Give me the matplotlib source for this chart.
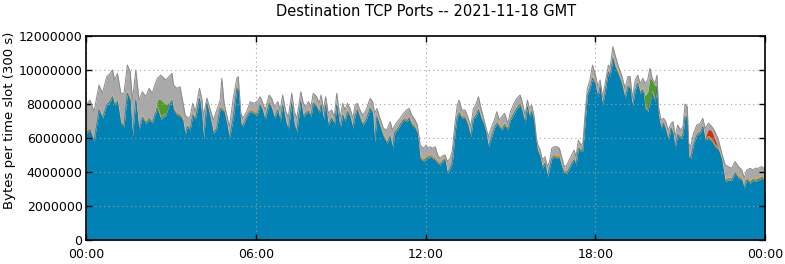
import numpy as np
import matplotlib
matplotlib.use("Agg")
import matplotlib.pyplot as plt

# time of day in hours, values in millions of bytes per 300 s slot
hours = [0.00, 0.14, 0.28, 0.46, 0.58, 0.73, 0.85, 0.93, 1.01, 1.11, 1.23, 1.34, 1.46, 1.56, 1.64, 1.76, 1.87, 1.99,
         2.11, 2.23, 2.34, 2.43, 2.52, 2.64, 2.82, 2.93, 3.04, 3.09, 3.21, 3.32, 3.42, 3.50, 3.58, 3.68, 3.77, 3.86,
         4.01, 4.09, 4.15, 4.27, 4.38, 4.50, 4.62, 4.74, 4.80, 4.88, 4.97, 5.07, 5.21, 5.33, 5.38, 5.47, 5.54, 5.68,
         5.80, 5.91, 6.05, 6.15, 6.23, 6.33, 6.47, 6.56, 6.66, 6.78, 6.86, 6.95, 7.06, 7.15, 7.27, 7.36, 7.45, 7.59,
         7.68, 7.77, 7.86, 7.95, 8.03, 8.15, 8.24, 8.31, 8.39, 8.47, 8.56, 8.68, 8.78, 8.86, 8.98, 9.07, 9.15, 9.24,
         9.33, 9.43, 9.51, 9.59, 9.68, 9.78, 9.90, 10.04, 10.13, 10.20, 10.28, 10.39, 10.51, 10.63, 10.75, 10.83,
         10.92, 11.00, 11.10, 11.22, 11.34, 11.42, 11.51, 11.63, 11.71, 11.81, 11.92, 12.02, 12.08, 12.16, 12.24,
         12.34, 12.43, 12.51, 12.59, 12.69, 12.77, 12.87, 12.95, 13.04, 13.12, 13.19, 13.28, 13.40, 13.49, 13.60,
         13.69, 13.77, 13.87, 13.96, 14.04, 14.14, 14.22, 14.34, 14.43, 14.52, 14.60, 14.69, 14.79, 14.91, 15.00,
         15.10, 15.22, 15.34, 15.40, 15.52, 15.60, 15.67, 15.75, 15.84, 15.91, 15.95, 16.05, 16.13, 16.22, 16.31,
         16.38, 16.46, 16.55, 16.64, 16.73, 16.81, 16.90, 16.99, 17.08, 17.17, 17.25, 17.32, 17.40, 17.49, 17.56,
         17.64, 17.72, 17.81, 17.90, 17.99, 18.09, 18.17, 18.25, 18.34, 18.46, 18.52, 18.62, 18.70, 18.82, 18.93,
         19.05, 19.15, 19.23, 19.31, 19.41, 19.50, 19.58, 19.68, 19.76, 19.85, 19.93, 20.01, 20.11, 20.18, 20.23,
         20.32, 20.41, 20.49, 20.58, 20.68, 20.75, 20.82, 20.91, 21.01, 21.10, 21.17, 21.25, 21.30, 21.37, 21.47,
         21.59, 21.71, 21.80, 21.88, 22.00, 22.12, 22.23, 22.35, 22.47, 22.59, 22.70, 22.82, 22.94, 23.06, 23.18,
         23.26, 23.35, 23.47, 23.57, 23.65, 23.76, 23.88, 23.97, 24.00]

port_main = [6.27, 6.47, 5.78, 7.65, 7.16, 7.94, 8.14, 8.43, 7.94, 8.14, 6.86, 6.67, 8.63, 8.23, 6.08, 8.23, 6.47, 7.21,
             6.86, 7.10, 6.86, 7.35, 7.74, 7.10, 7.35, 7.94, 8.19, 7.65, 7.35, 7.29, 7.06, 6.18, 6.67, 6.47, 7.35, 7.06,
             8.33, 7.35, 5.88, 8.04, 7.25, 6.27, 6.57, 7.74, 7.65, 7.55, 6.86, 5.98, 7.25, 8.92, 8.82, 6.86, 6.67, 7.25,
             7.55, 7.45, 7.35, 7.94, 7.65, 7.06, 8.04, 7.74, 7.16, 7.65, 6.96, 7.94, 6.96, 6.47, 8.04, 6.76, 6.37, 8.14,
             7.25, 7.45, 7.55, 7.25, 8.04, 7.84, 7.45, 7.94, 7.06, 7.94, 6.76, 7.16, 6.76, 7.94, 6.57, 7.35, 6.96, 7.55,
             7.25, 6.57, 7.35, 7.65, 7.16, 6.76, 7.06, 7.74, 7.45, 5.78, 7.25, 6.67, 6.08, 5.69, 6.08, 5.39,
             6.37, 6.47, 6.76, 7.06, 6.96, 7.16, 6.76, 6.57, 6.27, 4.80, 4.61, 4.80, 4.80, 4.90, 4.80,
             4.71, 4.51, 4.41, 4.61, 4.71, 3.92, 4.22, 4.61, 6.27, 7.25, 7.45, 7.16, 7.16, 6.76, 6.08,
             7.16, 7.25, 7.65, 7.16, 6.86, 6.27, 5.49, 6.08, 6.57, 6.86, 6.67, 6.47, 6.76, 6.47, 7.06,
             7.35, 7.74, 7.94, 7.65, 6.86, 7.84, 7.25, 7.55, 6.86, 5.78, 5.29, 4.90, 4.22, 4.51, 3.72,
             4.22, 4.80, 4.90, 4.80, 4.80, 4.31, 3.92, 3.92, 4.22, 4.51, 4.71, 4.41, 5.39, 5.20, 5.29,
             6.96, 8.53, 8.92, 9.51, 9.21, 8.43, 9.02, 7.94, 8.63, 9.90, 9.61, 10.68, 10.19, 9.70, 9.21,
             8.33, 9.02, 8.92, 7.84, 8.82, 9.21, 8.63, 8.82, 7.74, 7.55, 8.14, 8.63, 8.14, 8.92, 7.35,
             6.57, 6.86, 6.47, 5.88, 6.57, 6.27, 5.39, 6.18, 5.98, 6.18, 7.26, 7.16, 4.90, 4.81, 5.59,
             6.18, 6.28, 6.67, 5.89, 5.98, 5.79, 5.49, 5.30, 4.71, 3.44, 3.53, 3.53, 3.93, 3.63, 3.53,
             3.04, 3.53, 3.34, 3.53, 3.44, 3.53, 3.63, 3.53, 2.55]

total = [7.94, 8.23, 7.55, 9.12, 8.63, 9.61, 9.80, 10.00, 9.41, 9.80, 8.63, 8.63, 10.29, 9.90, 8.23, 10.00, 8.23, 8.72,
         8.43, 8.92, 8.63, 9.12, 9.51, 9.70, 9.41, 9.61, 9.80, 9.12, 8.92, 9.02, 8.14, 7.35, 7.21, 7.25, 8.04, 7.55,
         8.92, 8.33, 7.25, 8.35, 7.74, 7.06, 7.65, 8.23, 9.51, 8.04, 7.35, 6.67, 8.43, 9.51, 9.61, 7.45, 7.16, 7.55,
         8.14, 8.04, 8.14, 8.43, 8.14, 7.65, 8.53, 8.33, 7.84, 8.14, 7.65, 8.53, 7.55, 7.25, 8.63, 7.55, 7.16, 8.72,
         8.04, 7.84, 8.14, 7.84, 8.63, 8.43, 8.04, 8.53, 7.65, 8.43, 7.45, 7.65, 7.25, 8.63, 7.16, 8.04, 7.65, 8.04,
         7.74, 7.16, 7.94, 8.04, 7.65, 7.35, 7.65, 8.33, 8.14, 7.45, 7.74, 7.16, 6.57, 6.47, 6.96, 6.47,
         6.76, 6.96, 7.16, 7.45, 7.65, 7.74, 7.35, 7.06, 6.76, 5.59, 5.39, 5.59, 5.39, 5.49, 5.39,
         5.49, 5.00, 4.80, 4.94, 5.00, 4.61, 4.80, 5.29, 6.86, 7.94, 8.23, 7.65, 7.65, 7.25, 6.67,
         7.74, 7.94, 8.43, 7.74, 7.25, 6.57, 6.08, 6.67, 7.06, 7.55, 7.06, 7.25, 7.45, 6.86, 7.55,
         7.94, 8.33, 8.53, 8.23, 7.35, 8.23, 7.74, 7.94, 7.25, 6.08, 5.69, 5.29, 4.71, 4.90, 4.31,
         4.61, 5.39, 5.49, 5.49, 5.39, 4.90, 4.31, 4.41, 4.71, 5.00, 5.29, 4.90, 5.88, 5.59, 5.69,
         7.45, 8.92, 9.41, 10.29, 9.80, 9.02, 9.41, 8.43, 9.12, 10.29, 10.10, 11.37, 10.88, 10.19, 9.70,
         8.92, 9.61, 9.61, 8.33, 9.41, 9.70, 9.21, 9.51, 9.21, 9.41, 10.10, 9.51, 9.21, 9.70, 7.84,
         7.06, 7.16, 6.96, 6.47, 6.86, 6.96, 6.08, 6.76, 6.47, 6.67, 8.00, 7.85, 5.69, 5.49, 6.28,
         6.77, 6.87, 7.16, 6.57, 6.87, 6.67, 6.38, 5.89, 5.10, 4.42, 4.32, 4.22, 4.61, 4.32, 4.12,
         3.63, 4.12, 4.22, 4.12, 4.22, 4.22, 4.32, 4.22, 2.75]

# smaller ports that show up only in a few stretches
green_early_hours = [2.43, 2.52, 2.64, 2.82, 2.93]
green_early = [0.0, 0.35, 1.00, 0.45, 0.0]
green_late_hours = [19.68, 19.76, 19.85, 19.93, 20.01, 20.11, 20.18]
green_late = [0.0, 0.60, 0.98, 1.27, 0.58, 0.78, 0.0]
red_hours = [21.88, 22.00, 22.12, 22.23, 22.35]
red = [0.0, 0.40, 0.45, 0.28, 0.0]

yticks = [0, 2000000, 4000000, 6000000, 8000000, 10000000, 12000000]
xticks = [0, 6, 12, 18, 24]
xlabels = ["00:00", "06:00", "12:00", "18:00", "00:00"]

t = np.array(hours)
blue = np.array(port_main) * 1e6
top = np.array(total) * 1e6

green = np.zeros_like(t)
for h, v in list(zip(green_early_hours, green_early)) + list(zip(green_late_hours, green_late)):
    green[np.argmin(np.abs(t - h))] = v * 1e6
redv = np.zeros_like(t)
for h, v in zip(red_hours, red):
    redv[np.argmin(np.abs(t - h))] = v * 1e6

lb_top = blue + 0.05e6         # thin light-blue port
band = lb_top + 0.12e6         # thin orange port
g_top = band + green
r_top = g_top + redv
top = np.maximum(top, r_top + 0.05e6)

fig = plt.figure(figsize=(7.85, 2.64), dpi=100)
ax = fig.add_axes([0.1096, 0.0909, 0.8650, 0.7727])

ax.fill_between(t, 0, blue, color="#0083b4", lw=0, zorder=2)
ax.fill_between(t, blue, lb_top, color="#6cb9d8", lw=0, zorder=2)
ax.fill_between(t, lb_top, band, color="#c98a16", lw=0, zorder=2)
ax.fill_between(t, band, g_top, color="#4e9a2a", lw=0, zorder=2)
ax.fill_between(t, g_top, r_top, color="#c8321e", lw=0, zorder=2)
ax.fill_between(t, r_top, top, color="#a9a9a9", lw=0, zorder=2)
ax.plot(t, blue, color="#1f6f90", lw=0.5, zorder=3)
ax.plot(t, top, color="#8a8a8a", lw=0.7, zorder=3)

ax.set_xlim(0, 24)
ax.set_ylim(0, 12000000)
ax.set_xticks(xticks)
ax.set_xticklabels(xlabels)
ax.set_yticks(yticks)
ax.set_yticklabels([str(v) for v in yticks])
ax.tick_params(direction="in", length=4.5, width=1, top=True, right=True, labelsize=9)
ax.tick_params(axis="x", pad=6)
ax.tick_params(axis="y", pad=2.5)
ax.grid(True, color="#a0a0a0", linestyle=(0, (1, 3)), lw=0.8, zorder=1)
ax.set_axisbelow(False)
for s in ax.spines.values():
    s.set_linewidth(1.2)
    s.set_zorder(5)

fig.text(10 / 785, 0.545, "Bytes per time slot (300 s)", rotation=90, ha="center", va="center", fontsize=9.5)
fig.text(0.543, 0.955, "Destination TCP Ports -- 2021-11-18 GMT", ha="center", va="center", fontsize=10.5)

fig.savefig("out.png", dpi=100)
